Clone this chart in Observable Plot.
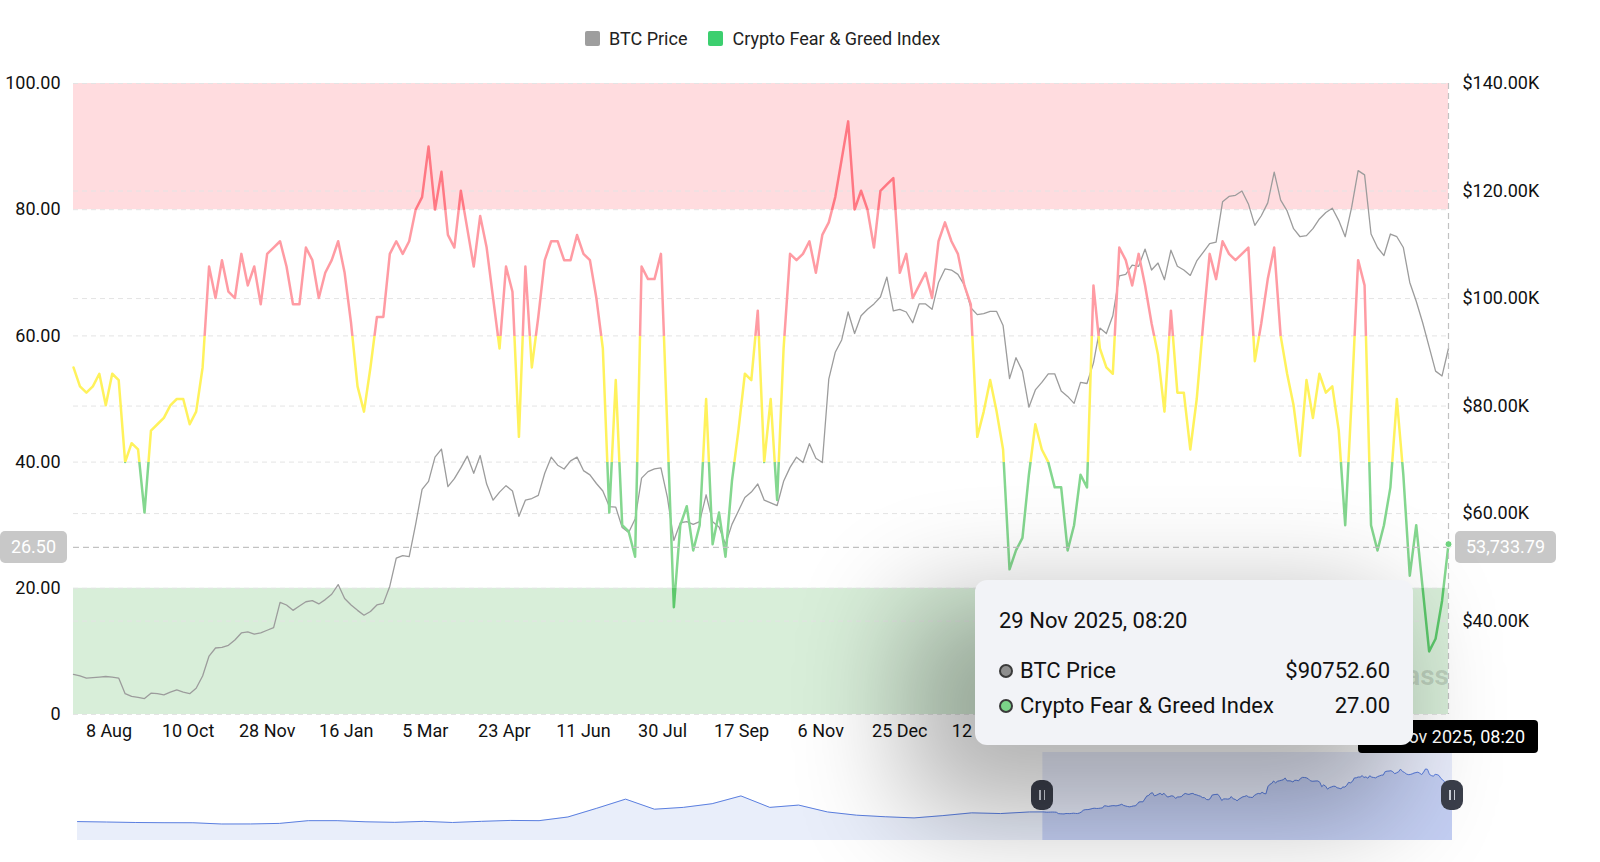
<!DOCTYPE html>
<html><head><meta charset="utf-8">
<script src="https://cdn.jsdelivr.net/npm/d3@7"></script>
<script src="https://cdn.jsdelivr.net/npm/@observablehq/plot@0.6"></script>
<style>
body{margin:0;background:#fff;font-family:Roboto,"Noto Sans",sans-serif;}
#wrap{position:relative;width:1600px;height:862px;overflow:hidden;background:#fff;}
.abs{position:absolute;}
#legend{top:28px;left:585px;display:flex;align-items:center;font-size:18px;color:#222;white-space:nowrap;}
#legend .sw{width:15px;height:15px;border-radius:2px;margin-right:9px;}
#legend .item{display:flex;align-items:center;margin-right:21px;}
.tip{left:975px;top:580px;width:438px;height:165px;box-sizing:border-box;padding:26px 23px 0 24px;background:#f2f3f7;border-radius:12px;box-shadow:-45px 45px 110px 25px rgba(0,0,0,0.30);z-index:5;color:#111;}
.tdate{font-size:22px;line-height:30px;margin-bottom:17px;}
.trow{display:flex;align-items:center;font-size:22px;line-height:35px;}
.trow .dot{width:10px;height:10px;border-radius:50%;border:2.5px solid #3a3a3a;margin-right:7px;}
.trow .tname{flex:1;}
.xlab{background:#000;color:#fff;font-size:18px;height:33px;line-height:33px;border-radius:4px;text-align:center;z-index:4;}
.ylab{background:#c8c8c8;color:#fff;font-size:18px;height:32px;line-height:32px;border-radius:5px;text-align:center;}
.handle{width:22px;height:30px;border-radius:9px;background:#3b3f4b;z-index:3;display:flex;justify-content:center;align-items:center;gap:3px;}
.handle i{display:block;width:1.5px;height:10px;background:#cfd3dc;}
.wm{font-size:28px;line-height:36px;font-weight:bold;color:rgba(0,0,0,0.13);white-space:nowrap;text-align:right;}
</style></head><body><div id="wrap"></div>
<script>
// ---------- data ----------
const sampleStep = 4; // category points between samples
const fgValues = [
55,52,51,52,54,49,54,53,40,43,
42,32,45,46,47,49,50,50,46,48,
55,71,66,72,67,66,73,68,71,65,
73,74,75,71,65,65,74,72,66,70,
72,75,70,62,52,48,55,63,63,73,
75,73,75,80,82,90,80,86,76,74,
83,77,71,79,74,66,58,71,67,44,
71,55,63,72,75,75,72,72,76,73,
72,66,58,32,53,30,29,25,71,69,
69,73,45,17,30,33,26,30,50,27,
32,25,37,45,54,53,64,40,50,34,
58,73,72,73,75,70,76,78,82,88,
94,80,83,80,74,83,84,85,70,73,
66,68,70,66,75,78,75,73,68,65,
44,48,53,48,42,23,26,28,38,46,
42,40,36,36,26,30,38,36,68,58,
55,54,74,72,68,73,68,62,57,48,
64,51,51,42,50,62,73,69,75,73,
72,73,74,56,62,69,74,60,54,49,
41,53,47,54,51,52,45,30,50,72,
68,30,26,30,36,50,38,22,30,20,
10,12,18,27];
const btcValuesK = [
30.1,29.8,29.4,29.5,29.6,29.7,29.6,29.4,26.5,26,
25.8,25.6,26.6,26.5,26.3,26.8,27.2,26.8,26.5,27.5,
29.8,33.5,35,35.1,35.5,36.5,37.8,38,37.6,37.8,
38.3,38.8,43.5,43,42,42.8,43.6,43.8,43.2,44,
45,46.8,44.2,43,42,41.1,41.8,43,43.3,46.5,
51.7,52.2,52,58,64.5,66,70.5,72,65,66.5,
68.5,70.7,67.5,70.8,65.5,62.5,64,65.2,64.2,59.5,
62.5,62.8,63.4,67.5,70.5,69,68.3,69.8,70.5,68,
67.2,65.6,64.2,61.3,61.2,57.4,56.5,59,66.6,67.8,
68.3,68.5,63,55,58.3,58.5,58,58.5,63.5,58.5,
57.5,54.3,58,60.5,63,64,65.5,62.5,62,61.5,
66,68.6,70.5,69.5,73,70.3,69.5,85,90,92.3,
97.5,93.5,96.8,98,99,100.3,104,97.7,98,97.5,
95.5,99,99,98,103,105.5,105.3,104.5,102.5,98.3,
97,97.2,97.6,97.6,95,85.1,89,86.5,79.8,83,
84.4,86,86,82.8,81.8,80.5,84.4,84.2,88,94.5,
93.5,96.8,104.2,104.5,106.2,106,109.2,105.3,106.6,103.5,
109,106,105.3,104.3,107,108.6,110.2,110.5,118,119,
119.2,120,117.6,113.6,115.4,117.8,123.5,118.3,116.3,113,
111.5,111.7,113,114.8,116,116.8,114.5,111.5,117,123.8,
123,112,109.5,108,112,111.5,109.5,103,99.5,95.5,
91,86.5,85.6,90.7526];
// longer BTC history shown only in the zoom slider (one value every 60 points)
const historyStep = 60;
const historyStartIndex = -2008;
const historyBtcK = [9,8,7,6.5,6.4,3.7,3.8,5,11,11,8.5,7.3,9.5,7,9.5,11.5,11,19,38,58,36,40,48,65,40,45,30,23,19.5,17,22,28,26.5,30];

// x labels visible in the reference (later ones are hidden behind the tooltip)
const xTickLabels = ["8 Aug","10 Oct","28 Nov","16 Jan","5 Mar","23 Apr","11 Jun","30 Jul","17 Sep","6 Nov","25 Dec","12 Feb"];
const xTickFirst = 22, xTickEvery = 49;
const fgTicks = [0,20,40,60,80,100];
const priceTicks = [40000,60000,80000,100000,120000,140000];
const priceDomain = [22631, 140000];
const zoneBands = [{from:80,to:100,color:"#ffdcdf"},{from:0,to:20,color:"#d8eed9"}];
const colorPieces = [
  {from:80,to:100,color:"#ff7883"},
  {from:60,to:80,color:"#ff9ba3"},
  {from:40,to:60,color:"#fff25c"},
  {from:20,to:40,color:"#84d78f"},
  {from:0,to:20,color:"#5cc86b"}];
const crossValue = 26.5;
const crossPrice = 53733.79;
const tipDate = "29 Nov 2025, 08:20";
const tipBtc = 90752.60;
const tipFg = 27.00;
const legendItems = [{name:"BTC Price",color:"#9e9e9e"},{name:"Crypto Fear & Greed Index",color:"#3ccf6f"}];
const watermarkVisible = "ass";

// ---------- build ----------
const fgData = fgValues.map((v,k)=>({i:k*sampleStep, v}));
const btcData = btcValuesK.map((p,k)=>({i:k*sampleStep, p:p*1000}));
const lastI = (fgValues.length-1)*sampleStep;
const toIdx = p => (p - priceDomain[0])/(priceDomain[1]-priceDomain[0])*100;
const fmtK = p => "$" + (p/1000).toFixed(2) + "K";

const wrap = document.getElementById("wrap");

const main = Plot.plot({
  width:1600, height:862, marginTop:83, marginBottom:148, marginLeft:73, marginRight:152,
  x:{domain:[0,lastI], axis:null},
  y:{domain:[0,100], axis:null},
  color:{type:"identity"},
  style:{fontFamily:"Roboto, sans-serif", fontSize:"18px", color:"#111", background:"transparent", overflow:"visible"},
  marks:[
    Plot.rect(zoneBands,{y1:"from",y2:"to",fill:"color"}),
    Plot.ruleY(fgTicks,{stroke:"#e4e4e4",strokeDasharray:"5,4"}),
    Plot.ruleY(priceTicks,{y:toIdx,stroke:"#e4e4e4",strokeDasharray:"5,4"}),
    Plot.line(btcData,{x:"i",y:d=>toIdx(d.p),stroke:"#9c9c9c",strokeWidth:1.3,strokeLinejoin:"round"}),
    Plot.line(fgData,{x:"i",y:"v",stroke:"url(#fgZoneGrad)",strokeWidth:2.5,strokeLinejoin:"round"}),
    Plot.ruleY([crossValue],{stroke:"#c2c2c2",strokeDasharray:"6,4",strokeWidth:1.2}),
    Plot.ruleX([lastI],{stroke:"#c2c2c2",strokeDasharray:"6,4",strokeWidth:1.2}),
    Plot.dot([fgData[fgData.length-1]],{x:"i",y:"v",r:3.5,fill:"#6fd37f",stroke:"#ffffff",strokeWidth:1}),
    Plot.text(fgTicks,{y:d=>d,text:d=>d===0?"0":d.toFixed(2),frameAnchor:"left",textAnchor:"end",dx:-13,fill:"#111"}),
    Plot.text(priceTicks,{y:toIdx,text:fmtK,frameAnchor:"right",textAnchor:"start",dx:14,fill:"#111"}),
    Plot.text(xTickLabels,{x:(d,k)=>xTickFirst+k*xTickEvery,text:d=>d,frameAnchor:"bottom",dy:22,fill:"#111"})
  ]
});
main.classList.add("abs");
main.style.left="0px"; main.style.top="0px";

// zone colour gradient for the index line, positioned with the y scale
const ys = main.scale("y");
const NS = "http://www.w3.org/2000/svg";
const defs = document.createElementNS(NS,"defs");
const grad = document.createElementNS(NS,"linearGradient");
grad.setAttribute("id","fgZoneGrad");
grad.setAttribute("gradientUnits","userSpaceOnUse");
grad.setAttribute("x1",0); grad.setAttribute("x2",0);
grad.setAttribute("y1",ys.apply(100)); grad.setAttribute("y2",ys.apply(0));
for (const pc of colorPieces) {
  for (const val of [pc.to, pc.from]) {
    const s = document.createElementNS(NS,"stop");
    s.setAttribute("offset",(100-val)/100);
    s.setAttribute("stop-color",pc.color);
    grad.appendChild(s);
  }
}
defs.appendChild(grad);
main.insertBefore(defs, main.firstChild);
wrap.appendChild(main);

const xs = main.scale("x");

// ---------- slider ----------
const historyData = historyBtcK.map((p,j)=>({i:historyStartIndex+j*historyStep, p:p*1000}));
const sliderData = historyData.concat(btcData);
const ext = d3.extent(sliderData, d=>d.p);
const pad = (ext[1]-ext[0])*0.3;
const sMin = ext[0]-pad, sMax = ext[1]+pad;
const slider = Plot.plot({
  width:1600, height:88, marginTop:0, marginBottom:0, marginLeft:77, marginRight:148,
  x:{domain:[historyStartIndex,lastI], axis:null},
  y:{domain:[sMin,sMax], axis:null},
  style:{background:"transparent"},
  marks:[
    Plot.areaY(sliderData,{x:"i",y1:sMin,y2:"p",fill:"#e9eefa"}),
    Plot.rect([{a:0,b:lastI}],{x1:"a",x2:"b",fill:"#8aa2ec",fillOpacity:0.2}),
    Plot.areaY(btcData,{x:"i",y1:sMin,y2:"p",fill:"#7f98e6",fillOpacity:0.2}),
    Plot.line(sliderData,{x:"i",y:"p",stroke:"#5b7fe0",strokeWidth:1})
  ]
});
slider.classList.add("abs");
slider.style.left="0px"; slider.style.top="752px";
wrap.appendChild(slider);
const sx = slider.scale("x");
for (const idx of [0,lastI]) {
  const h = document.createElement("div");
  h.className="abs handle";
  h.innerHTML="<i></i><i></i>";
  h.style.left=(sx.apply(idx)-11)+"px"; h.style.top=(752+43-15)+"px";
  wrap.appendChild(h);
}

// ---------- legend ----------
const lg = document.createElement("div");
lg.id="legend"; lg.className="abs";
lg.innerHTML = legendItems.map(d=>`<div class="item"><div class="sw" style="background:${d.color}"></div>${d.name}</div>`).join("");
wrap.appendChild(lg);

// ---------- crosshair labels ----------
const cy = ys.apply(crossValue);
const yl = document.createElement("div");
yl.className="abs ylab"; yl.textContent=crossValue.toFixed(2);
yl.style.left="0px"; yl.style.width="67px"; yl.style.top=(cy-16)+"px";
wrap.appendChild(yl);
const yr = document.createElement("div");
yr.className="abs ylab"; yr.textContent=d3.format(",.2f")(crossPrice);
yr.style.left=(xs.apply(lastI)+7)+"px"; yr.style.width="101px"; yr.style.top=(cy-16)+"px";
wrap.appendChild(yr);
const xl = document.createElement("div");
xl.className="abs xlab"; xl.textContent=tipDate;
xl.style.width="180px"; xl.style.left=(xs.apply(lastI)-90)+"px"; xl.style.top=(ys.apply(0)+6)+"px";
wrap.appendChild(xl);

// ---------- tooltip ----------
const tip = document.createElement("div");
tip.className="abs tip";
tip.innerHTML = `<div class="tdate">${tipDate}</div>
<div class="trow"><span class="dot" style="background:#8e8e8e"></span><span class="tname">BTC Price</span><span>$${tipBtc.toFixed(2)}</span></div>
<div class="trow"><span class="dot" style="background:#7bd389"></span><span class="tname">Crypto Fear &amp; Greed Index</span><span>${tipFg.toFixed(2)}</span></div>`;
wrap.appendChild(tip);

// watermark fragment visible right of the tooltip
const wm = document.createElement("div");
wm.className="abs wm"; wm.textContent=watermarkVisible;
wm.style.right=(1600-xs.apply(lastI)-1)+"px";
wm.style.top=(ys.apply(6)-18)+"px";
wrap.appendChild(wm);
</script></body></html>
